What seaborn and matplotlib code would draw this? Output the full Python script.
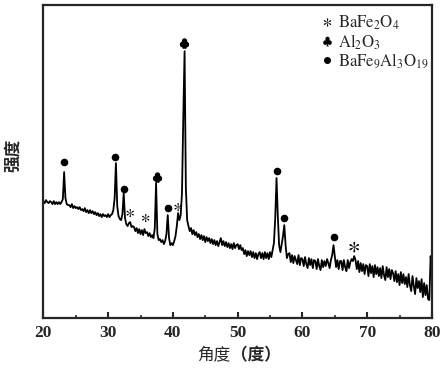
import numpy as np
import pandas as pd
import seaborn as sns
import matplotlib.pyplot as plt
from matplotlib.lines import Line2D

# XRD scan: 20-80 deg, 0.2 deg step, intensity in arbitrary units
scan_start = 20.0
scan_step = 0.2
intensity = [
    117, 115, 118, 116, 115, 117, 116, 114, 117, 114,   # 20.0
    116, 114, 116, 114, 116, 119, 146, 120, 114, 113,   # 22.0
    113, 111, 114, 110, 112, 110, 111, 109, 111, 108,   # 24.0
    109, 107, 110, 106, 108, 105, 108, 105, 107, 104,   # 26.0
    106, 103, 105, 102, 104, 101, 104, 102, 103, 101,   # 28.0
    104, 101, 103, 104, 108, 120, 155, 112, 102, 99,    # 30.0
    98, 104, 125, 100, 94, 92, 95, 96, 91, 92,          # 32.0
    91, 87, 90, 85, 89, 84, 88, 83, 89, 85,             # 34.0
    86, 82, 85, 81, 83, 80, 90, 135, 84, 78,            # 36.0
    79, 76, 78, 74, 77, 84, 103, 80, 73, 75,            # 38.0
    73, 77, 82, 92, 105, 98, 103, 125, 200, 267,        # 40.0
    130, 98, 92, 87, 90, 84, 88, 83, 86, 81,            # 42.0
    84, 79, 83, 78, 82, 76, 81, 77, 80, 75,             # 44.0
    79, 74, 78, 73, 77, 72, 76, 80, 73, 77,             # 46.0
    72, 76, 71, 75, 70, 74, 69, 75, 70, 73,             # 48.0
    74, 69, 73, 68, 70, 64, 68, 62, 67, 63,             # 50.0
    67, 61, 66, 60, 65, 59, 64, 66, 60, 65,             # 52.0
    59, 66, 60, 65, 59, 66, 61, 68, 75, 100,            # 54.0
    140, 102, 73, 66, 74, 82, 93, 73, 60, 64,           # 56.0
    65, 56, 63, 55, 62, 58, 54, 63, 53, 60,             # 58.0
    59, 52, 61, 54, 50, 60, 53, 59, 50, 58,             # 60.0
    57, 49, 59, 52, 48, 58, 51, 57, 52, 59,             # 62.0
    55, 50, 58, 63, 73, 62, 51, 58, 49, 57,             # 64.0
    57, 48, 58, 51, 47, 58, 50, 56, 59, 57,             # 66.0
    62, 58, 49, 57, 46, 55, 47, 54, 44, 53,             # 68.0
    52, 42, 54, 45, 52, 41, 53, 44, 51, 42,             # 70.0
    50, 40, 52, 43, 38, 51, 41, 49, 39, 48,             # 72.0
    45, 37, 47, 36, 44, 33, 46, 35, 44, 34,             # 74.0
    41, 31, 44, 33, 27, 42, 32, 24, 40, 30,             # 76.0
    37, 26, 39, 21, 35, 23, 33, 19, 18, 62,             # 78.0
    45,                                                 # 80.0
]
two_theta = scan_start + scan_step * np.arange(len(intensity))

# phase marks above the peaks
dot_pos = [23.2, 31.1, 32.5, 39.2, 56.0, 57.2, 64.9]
dot_int = [156, 161, 129, 110, 147, 100, 81]
club_pos = [37.5, 41.7]
club_int = [141, 275]
star_pos = [33.4, 35.8, 40.8, 68.0]
star_int = [105, 100, 111, 71]
star_big = [False, False, False, True]

legend_labels = [r'$\mathrm{BaFe_2O_4}$', r'$\mathrm{Al_2O_3}$', r'$\mathrm{BaFe_9Al_3O_{19}}$']

sns.set_style('ticks')
plt.rcParams['font.family'] = ['Liberation Serif', 'Noto Sans CJK SC']
plt.rcParams['mathtext.fontset'] = 'stix'

df = pd.DataFrame({'two_theta': two_theta, 'intensity': intensity})

fig = plt.figure(figsize=(4.43, 3.69), dpi=100)
ax = fig.add_axes([0.098, 0.138, 0.877, 0.848])
sns.lineplot(data=df, x='two_theta', y='intensity', color='black', linewidth=1.3, ax=ax)

ax.scatter(dot_pos, dot_int, marker='o', s=20, color='black', zorder=3)
ax.scatter(club_pos, club_int, marker=r'$\clubsuit$', s=42, color='black', zorder=3)
star_sizes = [60 if b else 35 for b in star_big]
ax.scatter(star_pos, star_int, marker=r'$\ast$', s=star_sizes, color='black', linewidths=0, zorder=3)

handles = [
    Line2D([], [], linestyle='none', marker=r'$\ast$', markersize=6, markeredgewidth=0, color='black'),
    Line2D([], [], linestyle='none', marker=r'$\clubsuit$', markersize=7, markeredgewidth=0, color='black'),
    Line2D([], [], linestyle='none', marker='o', markersize=4, color='black'),
]
ax.legend(handles, legend_labels, loc='upper left', frameon=False, fontsize=12,
          handlelength=0.6, handletextpad=0.35, labelspacing=0.02,
          borderaxespad=0.0, bbox_to_anchor=(0.70, 0.995))

ax.set_xlim(20, 80)
ax.set_ylim(0, 313)
ax.set_xticks(range(20, 81, 10))
ax.set_xticks(range(25, 80, 10), minor=True)
ax.set_yticks([])
ax.tick_params(axis='x', which='major', direction='in', length=4, width=1.5,
               labelsize=12.5, pad=5)
ax.tick_params(axis='x', which='minor', direction='in', length=2.5, width=1.2)
for lab in ax.get_xticklabels():
    lab.set_fontweight('bold')
for sp in ax.spines.values():
    sp.set_linewidth(1.6)
    sp.set_visible(True)

ax.set_xlabel('')
ax.set_ylabel('')
ax.text(0.482, -0.118, '角度', transform=ax.transAxes, ha='right', va='center',
        fontsize=12, family='Noto Sans CJK SC')
ax.text(0.482, -0.118, '（度）', transform=ax.transAxes, ha='left', va='center',
        fontsize=12, family='Noto Sans CJK SC', fontweight='bold')
ax.text(-0.077, 0.52, '强度', transform=ax.transAxes, ha='center', va='center',
        rotation=90, fontsize=12, family='Noto Sans CJK SC', fontweight='bold')

fig.savefig('out.png', dpi=100)
